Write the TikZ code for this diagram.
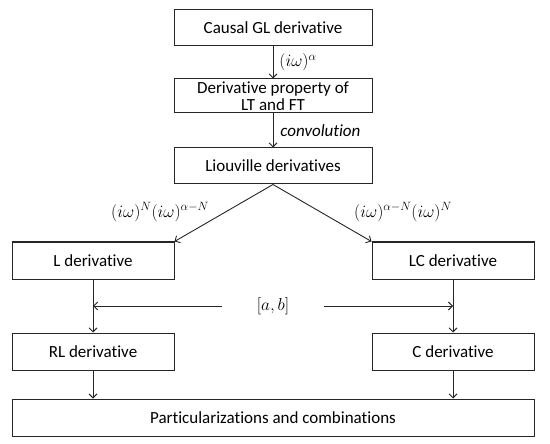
\documentclass[tikz,border=0pt]{standalone}
\usepackage{fontspec}
\setmainfont{Carlito}[Ligatures={NoCommon,NoContextual},RawFeature={-liga;-clig;-calt}]
\usetikzlibrary{arrows.meta}
\begin{document}
\begin{tikzpicture}[x=1pt,y=-1pt,
  box/.style={draw=black!85,line width=1pt,inner sep=0pt,align=center,
    font=\fontsize{17}{17}\selectfont},
  wbox/.style={box,minimum width=198pt},
  sbox/.style={box,minimum width=162pt,minimum height=37pt},
  conn/.style={draw=black!85,line width=0.9pt,-{Straight Barb[length=4pt,width=8pt]}},
  lab/.style={inner sep=0pt,font=\fontsize{17}{18}\selectfont},
  mlab/.style={inner sep=0pt,font=\fontsize{18.5}{19}\selectfont}]
\useasboundingbox (0,0) rectangle (550,444);
\node[wbox,minimum height=36pt] (gl) at (273,28) {Causal GL derivative};
\node[wbox,minimum height=34pt] (prop) at (273,96) {Derivative property of\\LT and FT};
\node[wbox,minimum height=36pt] (liou) at (273,166) {Liouville derivatives};
\node[sbox] (L) at (93,260.5) {L derivative};
\node[sbox] (LC) at (453,260.5) {LC derivative};
\node[sbox] (RL) at (93,351.5) {RL derivative};
\node[sbox] (C) at (453,351.5) {C derivative};
\node[box,minimum width=522pt,minimum height=37pt] (P) at (273,417.5) {Particularizations and combinations};
\node[mlab,minimum width=102pt] (ab) at (273,306) {$[a,b]$};
\node[mlab] (l1) at (160,212) {$(i\omega)^N(i\omega)^{\alpha-N}$};
\node[mlab] (l2) at (403,212) {$(i\omega)^{\alpha-N}(i\omega)^N$};
\draw[conn] (gl.south) -- node[mlab,right=6pt] {$(i\omega)^{\alpha}$} (prop.north);
\draw[conn] (prop.south) -- node[lab,right=7pt] {\itshape convolution} (liou.north);
\draw[conn] (liou.south) -- (L.north east);
\draw[conn] (liou.south) -- (LC.north west);
\draw[conn] (L.south) -- (RL.north);
\draw[conn] (LC.south) -- (C.north);
\draw[conn] (ab.west) -- (ab.west -| L.south);
\draw[conn] (ab.east) -- (ab.east -| LC.south);
\draw[conn] (RL.south) -- (RL.south |- P.north);
\draw[conn] (C.south) -- (C.south |- P.north);
\end{tikzpicture}
\end{document}
